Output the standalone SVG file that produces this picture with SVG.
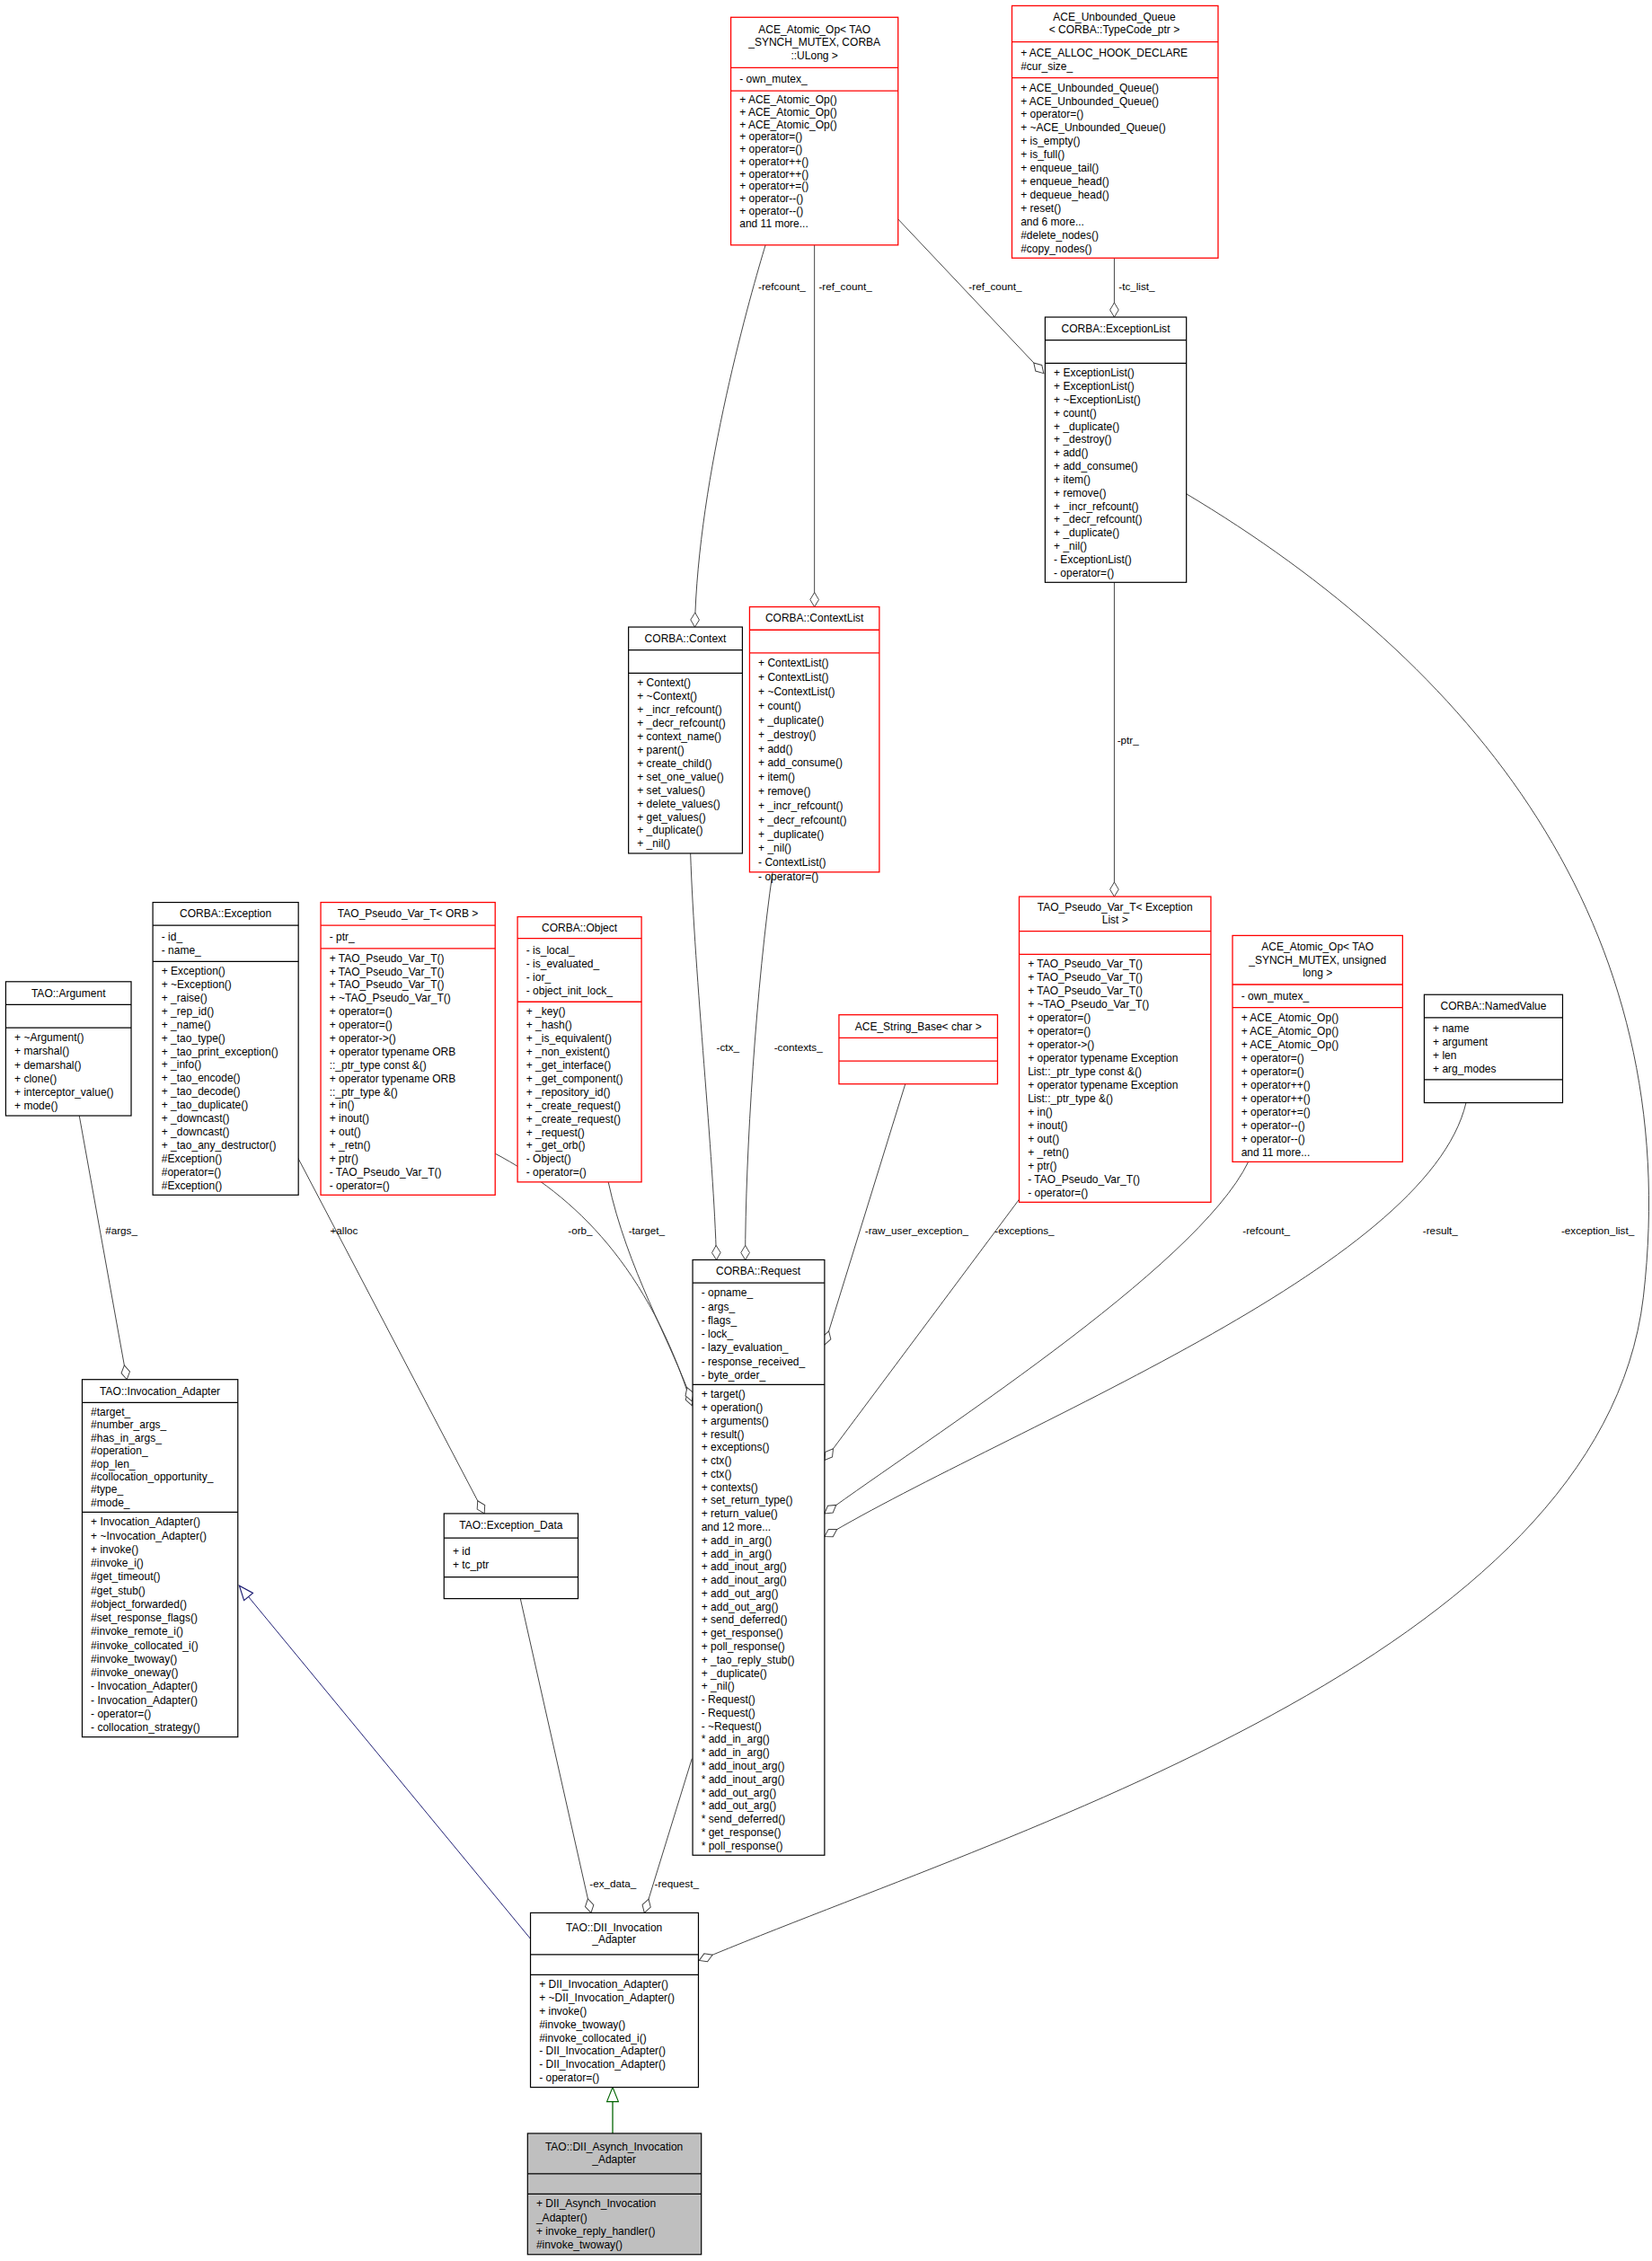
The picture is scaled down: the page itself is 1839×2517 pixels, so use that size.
<svg xmlns="http://www.w3.org/2000/svg" width="1839" height="2517" viewBox="0 0 1839 2517">
<style>
text{font-family:"Liberation Sans",Arial,sans-serif;font-size:7.5px;fill:#000}
.t{text-anchor:middle}
.b{fill:#fff;stroke:#000;stroke-width:0.75}
.r{fill:#fff;stroke:#ff0000;stroke-width:0.8}
.g{fill:#bfbfbf;stroke:#000;stroke-width:0.75}
.e{fill:none;stroke:#404040;stroke-width:0.6;marker-end:url(#dia)}
.lb{font-size:7.3px}
</style>
<defs>
<marker id="dia" markerUnits="userSpaceOnUse" markerWidth="12" markerHeight="8" refX="11" refY="4" orient="auto" viewBox="0 0 12 8"><path d="M1,4 L6,1 L11,4 L6,7 z" fill="#fff" stroke="#404040" stroke-width="0.6"/></marker>
<marker id="triN" markerUnits="userSpaceOnUse" markerWidth="12" markerHeight="10" refX="11" refY="5" orient="auto" viewBox="0 0 12 10"><path d="M1,1 L11,5 L1,9 z" fill="#fff" stroke="#191970" stroke-width="0.7"/></marker>
<marker id="triG" markerUnits="userSpaceOnUse" markerWidth="12" markerHeight="10" refX="11" refY="5" orient="auto" viewBox="0 0 12 10"><path d="M1,1 L11,5 L1,9 z" fill="#fff" stroke="#006400" stroke-width="0.7"/></marker>
</defs>
<rect width="1839" height="2517" fill="#fff"/>
<g transform="scale(1.6047)">
<g id="connectors">
<path class="e" d="M531,170 C522,200 484,330 482,435"/>
<path class="e" d="M565,170 L565,421"/>
<path class="e" d="M623,152 L724,259"/>
<path class="e" d="M773,179 L773,220"/>
<path class="e" d="M773,404 L773,622"/>
<path class="e" d="M479,592 C482,680 495,800 497,874"/>
<path class="e" d="M536,605 C525,680 517,800 517,874"/>
<path class="e" d="M628,752 L572,933"/>
<path class="e" d="M716,820 L572,1013"/>
<path class="e" d="M866,806 C830,880 640,1000 572,1050"/>
<path class="e" d="M1017,765 C990,880 700,990 572,1066"/>
<path class="e" d="M822,342 C1020,460 1170,640 1140,900 C1110,1150 700,1270 485,1360"/>
<path class="e" d="M343,800 C400,830 450,880 480,975"/>
<path class="e" d="M422,820 C435,880 465,930 480,972"/>
<path class="e" d="M205,800 L336,1050"/>
<path class="e" d="M55,774 L88,957"/>
<path class="e" d="M361,1109 L410,1327"/>
<path class="e" d="M480,1220 L447,1327"/>
<path d="M368,1345 L166,1100" fill="none" stroke="#191970" stroke-width="0.6" marker-end="url(#triN)"/>
<path d="M425,1480 L425,1448" fill="none" stroke="#006400" stroke-width="0.8" marker-end="url(#triG)"/>
<text class="lb" x="776" y="201">-tc_list_</text>
<text class="lb" x="672" y="201">-ref_count_</text>
<text class="lb" x="526" y="201">-refcount_</text>
<text class="lb" x="568" y="201">-ref_count_</text>
<text class="lb" x="775" y="516">-ptr_</text>
<text class="lb" x="497" y="729">-ctx_</text>
<text class="lb" x="537" y="729">-contexts_</text>
<text class="lb" x="73" y="856">#args_</text>
<text class="lb" x="229" y="856">+alloc</text>
<text class="lb" x="394" y="856">-orb_</text>
<text class="lb" x="436" y="856">-target_</text>
<text class="lb" x="600" y="856">-raw_user_exception_</text>
<text class="lb" x="690" y="856">-exceptions_</text>
<text class="lb" x="862" y="856">-refcount_</text>
<text class="lb" x="987" y="856">-result_</text>
<text class="lb" x="1083" y="856">-exception_list_</text>
<text class="lb" x="409" y="1309">-ex_data_</text>
<text class="lb" x="454" y="1309">-request_</text>
</g>

<g id="atomic_ulong">
<rect class="r" x="507" y="12" width="116" height="158"/>
<path d="M507,47 H623 M507,63 H623" stroke="#ff0000" stroke-width="0.8"/>
<text class="t" y="23"><tspan x="565">ACE_Atomic_Op&lt; TAO</tspan><tspan x="565" dy="9">_SYNCH_MUTEX, CORBA</tspan><tspan x="565" dy="9">::ULong &gt;</tspan></text>
<text x="513" y="57.5">- own_mutex_</text>
<text y="71.7"><tspan x="513">+ ACE_Atomic_Op()</tspan><tspan x="513" dy="8.58">+ ACE_Atomic_Op()</tspan><tspan x="513" dy="8.58">+ ACE_Atomic_Op()</tspan><tspan x="513" dy="8.58">+ operator=()</tspan><tspan x="513" dy="8.58">+ operator=()</tspan><tspan x="513" dy="8.58">+ operator++()</tspan><tspan x="513" dy="8.58">+ operator++()</tspan><tspan x="513" dy="8.58">+ operator+=()</tspan><tspan x="513" dy="8.58">+ operator--()</tspan><tspan x="513" dy="8.58">+ operator--()</tspan><tspan x="513" dy="8.58">and 11 more...</tspan></text>
</g>

<g id="unbounded_queue">
<rect class="r" x="702" y="4" width="143" height="175"/>
<path d="M702,29 H845 M702,54 H845" stroke="#ff0000" stroke-width="0.8"/>
<text class="t" y="14.6"><tspan x="773">ACE_Unbounded_Queue</tspan><tspan x="773" dy="8.5">&lt; CORBA::TypeCode_ptr &gt;</tspan></text>
<text y="39.5"><tspan x="708">+ ACE_ALLOC_HOOK_DECLARE</tspan><tspan x="708" dy="9">#cur_size_</tspan></text>
<text y="63.3"><tspan x="708">+ ACE_Unbounded_Queue()</tspan><tspan x="708" dy="9.3">+ ACE_Unbounded_Queue()</tspan><tspan x="708" dy="9.3">+ operator=()</tspan><tspan x="708" dy="9.3">+ ~ACE_Unbounded_Queue()</tspan><tspan x="708" dy="9.3">+ is_empty()</tspan><tspan x="708" dy="9.3">+ is_full()</tspan><tspan x="708" dy="9.3">+ enqueue_tail()</tspan><tspan x="708" dy="9.3">+ enqueue_head()</tspan><tspan x="708" dy="9.3">+ dequeue_head()</tspan><tspan x="708" dy="9.3">+ reset()</tspan><tspan x="708" dy="9.3">and 6 more...</tspan><tspan x="708" dy="9.3">#delete_nodes()</tspan><tspan x="708" dy="9.3">#copy_nodes()</tspan></text>
</g>

<g id="exception_list">
<rect class="b" x="725" y="220" width="98" height="184"/>
<path d="M725,236 H823 M725,252 H823" stroke="#000" stroke-width="0.75"/>
<text class="t" x="774" y="230.5">CORBA::ExceptionList</text>
<text y="261.2"><tspan x="731">+ ExceptionList()</tspan><tspan x="731" dy="9.25">+ ExceptionList()</tspan><tspan x="731" dy="9.25">+ ~ExceptionList()</tspan><tspan x="731" dy="9.25">+ count()</tspan><tspan x="731" dy="9.25">+ _duplicate()</tspan><tspan x="731" dy="9.25">+ _destroy()</tspan><tspan x="731" dy="9.25">+ add()</tspan><tspan x="731" dy="9.25">+ add_consume()</tspan><tspan x="731" dy="9.25">+ item()</tspan><tspan x="731" dy="9.25">+ remove()</tspan><tspan x="731" dy="9.25">+ _incr_refcount()</tspan><tspan x="731" dy="9.25">+ _decr_refcount()</tspan><tspan x="731" dy="9.25">+ _duplicate()</tspan><tspan x="731" dy="9.25">+ _nil()</tspan><tspan x="731" dy="9.25">- ExceptionList()</tspan><tspan x="731" dy="9.25">- operator=()</tspan></text>
</g>

<g id="context">
<rect class="b" x="436" y="435" width="79" height="157"/>
<path d="M436,451 H515 M436,467 H515" stroke="#000" stroke-width="0.75"/>
<text class="t" x="475.5" y="445.5">CORBA::Context</text>
<text y="476.3"><tspan x="442">+ Context()</tspan><tspan x="442" dy="9.3">+ ~Context()</tspan><tspan x="442" dy="9.3">+ _incr_refcount()</tspan><tspan x="442" dy="9.3">+ _decr_refcount()</tspan><tspan x="442" dy="9.3">+ context_name()</tspan><tspan x="442" dy="9.3">+ parent()</tspan><tspan x="442" dy="9.3">+ create_child()</tspan><tspan x="442" dy="9.3">+ set_one_value()</tspan><tspan x="442" dy="9.3">+ set_values()</tspan><tspan x="442" dy="9.3">+ delete_values()</tspan><tspan x="442" dy="9.3">+ get_values()</tspan><tspan x="442" dy="9.3">+ _duplicate()</tspan><tspan x="442" dy="9.3">+ _nil()</tspan></text>
</g>

<g id="context_list">
<rect class="r" x="520" y="421" width="90" height="184"/>
<path d="M520,437 H610 M520,453 H610" stroke="#ff0000" stroke-width="0.8"/>
<text class="t" x="565" y="431.5">CORBA::ContextList</text>
<text y="462.7"><tspan x="526">+ ContextList()</tspan><tspan x="526" dy="9.87">+ ContextList()</tspan><tspan x="526" dy="9.87">+ ~ContextList()</tspan><tspan x="526" dy="9.87">+ count()</tspan><tspan x="526" dy="9.87">+ _duplicate()</tspan><tspan x="526" dy="9.87">+ _destroy()</tspan><tspan x="526" dy="9.87">+ add()</tspan><tspan x="526" dy="9.87">+ add_consume()</tspan><tspan x="526" dy="9.87">+ item()</tspan><tspan x="526" dy="9.87">+ remove()</tspan><tspan x="526" dy="9.87">+ _incr_refcount()</tspan><tspan x="526" dy="9.87">+ _decr_refcount()</tspan><tspan x="526" dy="9.87">+ _duplicate()</tspan><tspan x="526" dy="9.87">+ _nil()</tspan><tspan x="526" dy="9.87">- ContextList()</tspan><tspan x="526" dy="9.87">- operator=()</tspan></text>
</g>

<g id="pseudo_exclist">
<rect class="r" x="707" y="622" width="133" height="212"/>
<path d="M707,646 H840 M707,662 H840" stroke="#ff0000" stroke-width="0.8"/>
<text class="t" y="632.1"><tspan x="773.5">TAO_Pseudo_Var_T&lt; Exception</tspan><tspan x="773.5" dy="8.5">List &gt;</tspan></text>
<text y="671.3"><tspan x="713">+ TAO_Pseudo_Var_T()</tspan><tspan x="713" dy="9.33">+ TAO_Pseudo_Var_T()</tspan><tspan x="713" dy="9.33">+ TAO_Pseudo_Var_T()</tspan><tspan x="713" dy="9.33">+ ~TAO_Pseudo_Var_T()</tspan><tspan x="713" dy="9.33">+ operator=()</tspan><tspan x="713" dy="9.33">+ operator=()</tspan><tspan x="713" dy="9.33">+ operator-&gt;()</tspan><tspan x="713" dy="9.33">+ operator typename Exception</tspan><tspan x="713" dy="9.33">List::_ptr_type const &amp;()</tspan><tspan x="713" dy="9.33">+ operator typename Exception</tspan><tspan x="713" dy="9.33">List::_ptr_type &amp;()</tspan><tspan x="713" dy="9.33">+ in()</tspan><tspan x="713" dy="9.33">+ inout()</tspan><tspan x="713" dy="9.33">+ out()</tspan><tspan x="713" dy="9.33">+ _retn()</tspan><tspan x="713" dy="9.33">+ ptr()</tspan><tspan x="713" dy="9.33">- TAO_Pseudo_Var_T()</tspan><tspan x="713" dy="9.33">- operator=()</tspan></text>
</g>

<g id="atomic_ulong2">
<rect class="r" x="855" y="649" width="118" height="157"/>
<path d="M855,683 H973 M855,699 H973" stroke="#ff0000" stroke-width="0.8"/>
<text class="t" y="659.5"><tspan x="914">ACE_Atomic_Op&lt; TAO</tspan><tspan x="914" dy="9">_SYNCH_MUTEX, unsigned</tspan><tspan x="914" dy="9">long &gt;</tspan></text>
<text x="861" y="693.5">- own_mutex_</text>
<text y="708.3"><tspan x="861">+ ACE_Atomic_Op()</tspan><tspan x="861" dy="9.36">+ ACE_Atomic_Op()</tspan><tspan x="861" dy="9.36">+ ACE_Atomic_Op()</tspan><tspan x="861" dy="9.36">+ operator=()</tspan><tspan x="861" dy="9.36">+ operator=()</tspan><tspan x="861" dy="9.36">+ operator++()</tspan><tspan x="861" dy="9.36">+ operator++()</tspan><tspan x="861" dy="9.36">+ operator+=()</tspan><tspan x="861" dy="9.36">+ operator--()</tspan><tspan x="861" dy="9.36">+ operator--()</tspan><tspan x="861" dy="9.36">and 11 more...</tspan></text>
</g>

<g id="named_value">
<rect class="b" x="988" y="690" width="96" height="75"/>
<path d="M988,706 H1084 M988,749 H1084" stroke="#000" stroke-width="0.75"/>
<text class="t" x="1036" y="700.5">CORBA::NamedValue</text>
<text y="716.2"><tspan x="994">+ name</tspan><tspan x="994" dy="9.3">+ argument</tspan><tspan x="994" dy="9.3">+ len</tspan><tspan x="994" dy="9.3">+ arg_modes</tspan></text>
</g>

<g id="string_base">
<rect class="r" x="582" y="704" width="110" height="48"/>
<path d="M582,720 H692 M582,736 H692" stroke="#ff0000" stroke-width="0.8"/>
<text class="t" x="637" y="714.5">ACE_String_Base&lt; char &gt;</text>
</g>

<g id="argument">
<rect class="b" x="4" y="681" width="87" height="93"/>
<path d="M4,697 H91 M4,713 H91" stroke="#000" stroke-width="0.75"/>
<text class="t" x="47.5" y="691.5">TAO::Argument</text>
<text y="722.4"><tspan x="10">+ ~Argument()</tspan><tspan x="10" dy="9.5">+ marshal()</tspan><tspan x="10" dy="9.5">+ demarshal()</tspan><tspan x="10" dy="9.5">+ clone()</tspan><tspan x="10" dy="9.5">+ interceptor_value()</tspan><tspan x="10" dy="9.5">+ mode()</tspan></text>
</g>

<g id="exception">
<rect class="b" x="106" y="626" width="101" height="203"/>
<path d="M106,642 H207 M106,667 H207" stroke="#000" stroke-width="0.75"/>
<text class="t" x="156.5" y="636.5">CORBA::Exception</text>
<text y="652.5"><tspan x="112">- id_</tspan><tspan x="112" dy="9.3">- name_</tspan></text>
<text y="676.2"><tspan x="112">+ Exception()</tspan><tspan x="112" dy="9.29">+ ~Exception()</tspan><tspan x="112" dy="9.29">+ _raise()</tspan><tspan x="112" dy="9.29">+ _rep_id()</tspan><tspan x="112" dy="9.29">+ _name()</tspan><tspan x="112" dy="9.29">+ _tao_type()</tspan><tspan x="112" dy="9.29">+ _tao_print_exception()</tspan><tspan x="112" dy="9.29">+ _info()</tspan><tspan x="112" dy="9.29">+ _tao_encode()</tspan><tspan x="112" dy="9.29">+ _tao_decode()</tspan><tspan x="112" dy="9.29">+ _tao_duplicate()</tspan><tspan x="112" dy="9.29">+ _downcast()</tspan><tspan x="112" dy="9.29">+ _downcast()</tspan><tspan x="112" dy="9.29">+ _tao_any_destructor()</tspan><tspan x="112" dy="9.29">#Exception()</tspan><tspan x="112" dy="9.29">#operator=()</tspan><tspan x="112" dy="9.29">#Exception()</tspan></text>
</g>

<g id="pseudo_orb">
<rect class="r" x="222.5" y="626" width="121" height="203"/>
<path d="M222.5,642 H343.5 M222.5,658 H343.5" stroke="#ff0000" stroke-width="0.8"/>
<text class="t" x="283" y="636.5">TAO_Pseudo_Var_T&lt; ORB &gt;</text>
<text x="228.5" y="652.5">- ptr_</text>
<text y="667.2"><tspan x="228.5">+ TAO_Pseudo_Var_T()</tspan><tspan x="228.5" dy="9.28">+ TAO_Pseudo_Var_T()</tspan><tspan x="228.5" dy="9.28">+ TAO_Pseudo_Var_T()</tspan><tspan x="228.5" dy="9.28">+ ~TAO_Pseudo_Var_T()</tspan><tspan x="228.5" dy="9.28">+ operator=()</tspan><tspan x="228.5" dy="9.28">+ operator=()</tspan><tspan x="228.5" dy="9.28">+ operator-&gt;()</tspan><tspan x="228.5" dy="9.28">+ operator typename ORB</tspan><tspan x="228.5" dy="9.28">::_ptr_type const &amp;()</tspan><tspan x="228.5" dy="9.28">+ operator typename ORB</tspan><tspan x="228.5" dy="9.28">::_ptr_type &amp;()</tspan><tspan x="228.5" dy="9.28">+ in()</tspan><tspan x="228.5" dy="9.28">+ inout()</tspan><tspan x="228.5" dy="9.28">+ out()</tspan><tspan x="228.5" dy="9.28">+ _retn()</tspan><tspan x="228.5" dy="9.28">+ ptr()</tspan><tspan x="228.5" dy="9.28">- TAO_Pseudo_Var_T()</tspan><tspan x="228.5" dy="9.28">- operator=()</tspan></text>
</g>

<g id="object">
<rect class="r" x="359" y="636" width="86" height="184"/>
<path d="M359,651 H445 M359,695 H445" stroke="#ff0000" stroke-width="0.8"/>
<text class="t" x="402" y="646.5">CORBA::Object</text>
<text y="661.7"><tspan x="365">- is_local_</tspan><tspan x="365" dy="9.3">- is_evaluated_</tspan><tspan x="365" dy="9.3">- ior_</tspan><tspan x="365" dy="9.3">- object_init_lock_</tspan></text>
<text y="704.3"><tspan x="365">+ _key()</tspan><tspan x="365" dy="9.3">+ _hash()</tspan><tspan x="365" dy="9.3">+ _is_equivalent()</tspan><tspan x="365" dy="9.3">+ _non_existent()</tspan><tspan x="365" dy="9.3">+ _get_interface()</tspan><tspan x="365" dy="9.3">+ _get_component()</tspan><tspan x="365" dy="9.3">+ _repository_id()</tspan><tspan x="365" dy="9.3">+ _create_request()</tspan><tspan x="365" dy="9.3">+ _create_request()</tspan><tspan x="365" dy="9.3">+ _request()</tspan><tspan x="365" dy="9.3">+ _get_orb()</tspan><tspan x="365" dy="9.3">- Object()</tspan><tspan x="365" dy="9.3">- operator=()</tspan></text>
</g>

<g id="request">
<rect class="b" x="480.5" y="874" width="91.5" height="413"/>
<path d="M480.5,890 H572 M480.5,960.6 H572" stroke="#000" stroke-width="0.75"/>
<text class="t" x="526" y="884.5">CORBA::Request</text>
<text y="899.4"><tspan x="486.5">- opname_</tspan><tspan x="486.5" dy="9.52">- args_</tspan><tspan x="486.5" dy="9.52">- flags_</tspan><tspan x="486.5" dy="9.52">- lock_</tspan><tspan x="486.5" dy="9.52">- lazy_evaluation_</tspan><tspan x="486.5" dy="9.52">- response_received_</tspan><tspan x="486.5" dy="9.52">- byte_order_</tspan></text>
<text y="969.8"><tspan x="486.5">+ target()</tspan><tspan x="486.5" dy="9.21">+ operation()</tspan><tspan x="486.5" dy="9.21">+ arguments()</tspan><tspan x="486.5" dy="9.21">+ result()</tspan><tspan x="486.5" dy="9.21">+ exceptions()</tspan><tspan x="486.5" dy="9.21">+ ctx()</tspan><tspan x="486.5" dy="9.21">+ ctx()</tspan><tspan x="486.5" dy="9.21">+ contexts()</tspan><tspan x="486.5" dy="9.21">+ set_return_type()</tspan><tspan x="486.5" dy="9.21">+ return_value()</tspan><tspan x="486.5" dy="9.21">and 12 more...</tspan><tspan x="486.5" dy="9.21">+ add_in_arg()</tspan><tspan x="486.5" dy="9.21">+ add_in_arg()</tspan><tspan x="486.5" dy="9.21">+ add_inout_arg()</tspan><tspan x="486.5" dy="9.21">+ add_inout_arg()</tspan><tspan x="486.5" dy="9.21">+ add_out_arg()</tspan><tspan x="486.5" dy="9.21">+ add_out_arg()</tspan><tspan x="486.5" dy="9.21">+ send_deferred()</tspan><tspan x="486.5" dy="9.21">+ get_response()</tspan><tspan x="486.5" dy="9.21">+ poll_response()</tspan><tspan x="486.5" dy="9.21">+ _tao_reply_stub()</tspan><tspan x="486.5" dy="9.21">+ _duplicate()</tspan><tspan x="486.5" dy="9.21">+ _nil()</tspan><tspan x="486.5" dy="9.21">- Request()</tspan><tspan x="486.5" dy="9.21">- Request()</tspan><tspan x="486.5" dy="9.21">- ~Request()</tspan><tspan x="486.5" dy="9.21">* add_in_arg()</tspan><tspan x="486.5" dy="9.21">* add_in_arg()</tspan><tspan x="486.5" dy="9.21">* add_inout_arg()</tspan><tspan x="486.5" dy="9.21">* add_inout_arg()</tspan><tspan x="486.5" dy="9.21">* add_out_arg()</tspan><tspan x="486.5" dy="9.21">* add_out_arg()</tspan><tspan x="486.5" dy="9.21">* send_deferred()</tspan><tspan x="486.5" dy="9.21">* get_response()</tspan><tspan x="486.5" dy="9.21">* poll_response()</tspan></text>
</g>

<g id="invocation_adapter">
<rect class="b" x="57" y="957" width="108" height="248"/>
<path d="M57,973 H165 M57,1049 H165" stroke="#000" stroke-width="0.75"/>
<text class="t" x="111" y="967.5">TAO::Invocation_Adapter</text>
<text y="982"><tspan x="63">#target_</tspan><tspan x="63" dy="9">#number_args_</tspan><tspan x="63" dy="9">#has_in_args_</tspan><tspan x="63" dy="9">#operation_</tspan><tspan x="63" dy="9">#op_len_</tspan><tspan x="63" dy="9">#collocation_opportunity_</tspan><tspan x="63" dy="9">#type_</tspan><tspan x="63" dy="9">#mode_</tspan></text>
<text y="1058.4"><tspan x="63">+ Invocation_Adapter()</tspan><tspan x="63" dy="9.5">+ ~Invocation_Adapter()</tspan><tspan x="63" dy="9.5">+ invoke()</tspan><tspan x="63" dy="9.5">#invoke_i()</tspan><tspan x="63" dy="9.5">#get_timeout()</tspan><tspan x="63" dy="9.5">#get_stub()</tspan><tspan x="63" dy="9.5">#object_forwarded()</tspan><tspan x="63" dy="9.5">#set_response_flags()</tspan><tspan x="63" dy="9.5">#invoke_remote_i()</tspan><tspan x="63" dy="9.5">#invoke_collocated_i()</tspan><tspan x="63" dy="9.5">#invoke_twoway()</tspan><tspan x="63" dy="9.5">#invoke_oneway()</tspan><tspan x="63" dy="9.5">- Invocation_Adapter()</tspan><tspan x="63" dy="9.5">- Invocation_Adapter()</tspan><tspan x="63" dy="9.5">- operator=()</tspan><tspan x="63" dy="9.5">- collocation_strategy()</tspan></text>
</g>

<g id="exception_data">
<rect class="b" x="308" y="1050" width="93" height="59"/>
<path d="M308,1067 H401 M308,1094 H401" stroke="#000" stroke-width="0.75"/>
<text class="t" x="354.5" y="1060.5">TAO::Exception_Data</text>
<text y="1078.5"><tspan x="314">+ id</tspan><tspan x="314" dy="9.3">+ tc_ptr</tspan></text>
</g>

<g id="dii_invocation_adapter">
<rect class="b" x="368" y="1327" width="116.5" height="121"/>
<path d="M368,1356 H484.5 M368,1370 H484.5" stroke="#000" stroke-width="0.75"/>
<text class="t" y="1339.6"><tspan x="426">TAO::DII_Invocation</tspan><tspan x="426" dy="8.5">_Adapter</tspan></text>
<text y="1379.2"><tspan x="374">+ DII_Invocation_Adapter()</tspan><tspan x="374" dy="9.25">+ ~DII_Invocation_Adapter()</tspan><tspan x="374" dy="9.25">+ invoke()</tspan><tspan x="374" dy="9.25">#invoke_twoway()</tspan><tspan x="374" dy="9.25">#invoke_collocated_i()</tspan><tspan x="374" dy="9.25">- DII_Invocation_Adapter()</tspan><tspan x="374" dy="9.25">- DII_Invocation_Adapter()</tspan><tspan x="374" dy="9.25">- operator=()</tspan></text>
</g>

<g id="dii_asynch_invocation_adapter">
<rect class="g" x="366" y="1480" width="120.5" height="84"/>
<path d="M366,1508 H486.5 M366,1522 H486.5" stroke="#000" stroke-width="0.75"/>
<text class="t" y="1492.1"><tspan x="426">TAO::DII_Asynch_Invocation</tspan><tspan x="426" dy="8.5">_Adapter</tspan></text>
<text y="1531.4"><tspan x="372">+ DII_Asynch_Invocation</tspan><tspan x="372" dy="9.5">_Adapter()</tspan><tspan x="372" dy="9.5">+ invoke_reply_handler()</tspan><tspan x="372" dy="9.5">#invoke_twoway()</tspan></text>
</g>
</g>
</svg>
